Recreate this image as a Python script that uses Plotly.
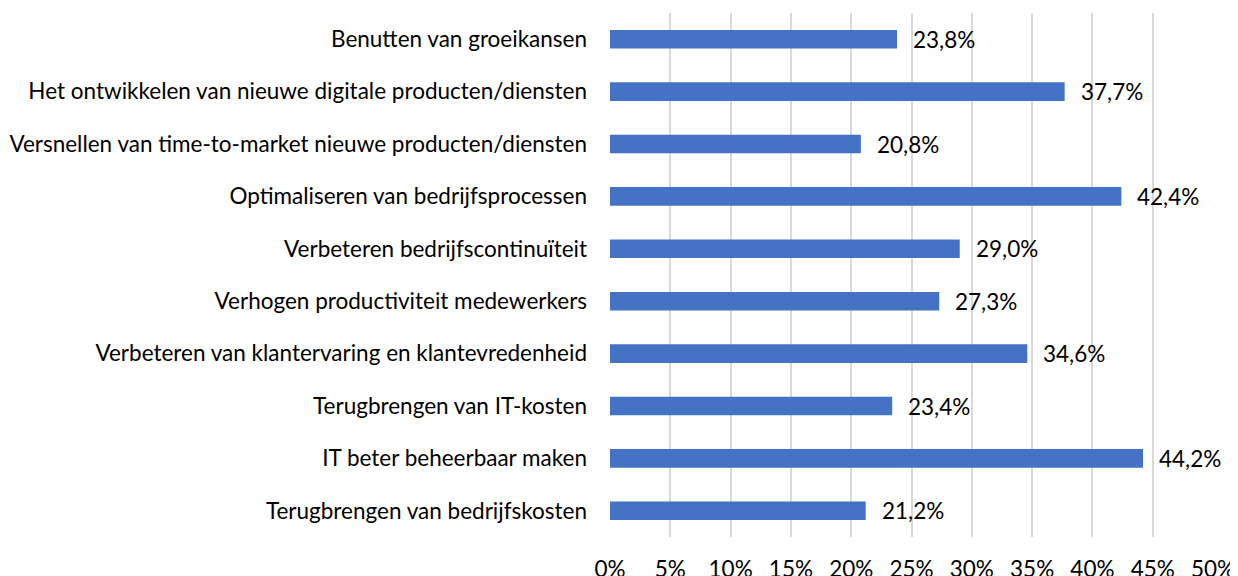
import plotly.graph_objects as go

categories = [
    "Benutten van groeikansen",
    "Het ontwikkelen van nieuwe digitale producten/diensten",
    "Versnellen van time-to-market nieuwe producten/diensten",
    "Optimaliseren van bedrijfsprocessen",
    "Verbeteren bedrijfscontinuïteit",
    "Verhogen productiviteit medewerkers",
    "Verbeteren van klantervaring en klantevredenheid",
    "Terugbrengen van IT-kosten",
    "IT beter beheerbaar maken",
    "Terugbrengen van bedrijfskosten",
]
values = [23.8, 37.7, 20.8, 42.4, 29.0, 27.3, 34.6, 23.4, 44.2, 21.2]
tick_vals = [0, 5, 10, 15, 20, 25, 30, 35, 40, 45, 50]
tick_text = [f"{v}%" for v in tick_vals]

FONT = "Lato"
FS = 22.5
fig = go.Figure(go.Bar(
    x=values, y=categories, orientation="h",
    marker=dict(color="#4472C4", line=dict(width=0)),
    width=0.355,
))
for c, v in zip(categories, values):
    fig.add_annotation(x=v, y=c, text=f"{v:.1f}".replace(".", ",") + "%",
                       xanchor="left", showarrow=False, xshift=14,
                       font=dict(family=FONT, size=FS, color="#000000"))

# page body has an 8px margin; the figure is sized to fit the 1238x576 window
fig.update_layout(
    width=1230, height=568,
    margin=dict(l=602, r=25, t=5, b=39),
    paper_bgcolor="white", plot_bgcolor="white",
    showlegend=False,
    font=dict(family=FONT, size=FS, color="#000000"),
)
fig.update_xaxes(range=[0, 50], tickvals=tick_vals, ticktext=tick_text,
                 showgrid=True, gridcolor="#D9D9D9", gridwidth=1.5,
                 zeroline=False, showline=False, ticks="",
                 ticklabelstandoff=16, automargin=False)
fig.update_yaxes(autorange="reversed", showgrid=False, zeroline=False,
                 showline=False, ticks="", ticklabelstandoff=22, automargin=False)

fig.write_html("out.html")
